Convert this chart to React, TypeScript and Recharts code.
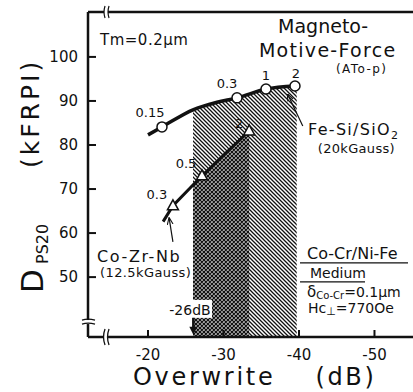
import React from 'react';
import { ComposedChart, Line, Area, XAxis, YAxis, ReferenceDot, ReferenceLine } from 'recharts';

const FONT = '"DejaVu Sans", Verdana, sans-serif';
const INK = '#111';

// Fe-Si/SiO2 head, 20kGauss (open circles, MMF in ATo-p)
const feOverwrite = [-20.0, -21.85, -25.96, -29.14, -31.79, -35.63, -39.47];
const feDensity = [82.3, 84.1, 88.0, 89.7, 90.7, 92.7, 93.4];
const feMmf = ['', '0.15', '', '', '0.3', '1', '2'];

// Co-Zr-Nb head, 12.5kGauss (open triangles)
const coOverwrite = [-22.0, -23.3, -27.15, -33.4];
const coDensity = [62.6, 66.2, 73.0, 83.2];
const coMmf = ['', '0.3', '0.5', '2'];

// shaded regions beyond -26 dB
const hatchOverwrite = [-25.96, -29.14, -31.79, -35.63, -39.7];
const hatchTop = [88.0, 89.7, 90.7, 92.7, 93.4];
const crossOverwrite = [-25.96, -27.15, -33.4];
const crossTop = [70.7, 73.0, 83.2];

const xTicks = [-20, -30, -40, -50];
const topTicks = [-20, -30];
const yTicks = [50, 60, 70, 80, 90, 100];

const X_DOMAIN: [number, number] = [-55.5, -12.05];
const Y_DOMAIN: [number, number] = [36.4, 110.2];

type Row = { x: number; fe?: number; feMmf?: string; co?: number; coMmf?: string; hatch?: number; cross?: number };
const rowMap = new Map<number, Row>();
const put = (x: number, patch: Partial<Row>) => rowMap.set(x, { ...(rowMap.get(x) || { x }), ...patch });
feOverwrite.forEach((x, i) => put(x, { fe: feDensity[i], feMmf: feMmf[i] }));
coOverwrite.forEach((x, i) => put(x, { co: coDensity[i], coMmf: coMmf[i] }));
hatchOverwrite.forEach((x, i) => put(x, { hatch: hatchTop[i] }));
crossOverwrite.forEach((x, i) => put(x, { cross: crossTop[i] }));
const table = [...rowMap.values()].sort((a, b) => b.x - a.x);

// where the MMF numbers sit relative to their marker
const feLabelOffset: Record<string, [number, number]> = { '0.15': [-12, -10], '0.3': [-10, -10], '1': [0, -9], '2': [1, -8] };
const coLabelOffset: Record<string, [number, number]> = { '0.3': [-16, -7], '0.5': [-16, -8], '2': [-10, -3] };

const markText = (cx: number, cy: number, label: string, off: [number, number]) => (
  <text x={cx + off[0]} y={cy + off[1]} textAnchor="middle" fontFamily={FONT} fontSize={13} fill={INK}>
    {label}
  </text>
);

const feDot = (p: any) => {
  const { cx, cy, payload, index } = p;
  if (!payload?.feMmf || cy == null) return <g key={`fe-${index}`} />;
  return (
    <g key={`fe-${index}`}>
      <circle cx={cx} cy={cy} r={5} fill="#fff" stroke={INK} strokeWidth={1.5} />
      {markText(cx, cy, payload.feMmf, feLabelOffset[payload.feMmf] || [0, -9])}
    </g>
  );
};

const coDot = (p: any) => {
  const { cx, cy, payload, index } = p;
  if (!payload?.coMmf || cy == null) return <g key={`co-${index}`} />;
  return (
    <g key={`co-${index}`}>
      <polygon points={`${cx},${cy - 6} ${cx - 5.5},${cy + 4} ${cx + 5.5},${cy + 4}`} fill="#fff" stroke={INK} strokeWidth={1.5} />
      {markText(cx, cy, payload.coMmf, coLabelOffset[payload.coMmf] || [0, -9])}
    </g>
  );
};

const txt = { fontFamily: FONT, fill: INK } as const;

const note = (render: (cx: number, cy: number) => React.ReactElement) => (p: any) => render(p.cx, p.cy);

const xTitle = () => (
  <text x={133} y={385} {...txt} fontSize={24} letterSpacing={2.7}>
    <tspan>Overwrite</tspan>
    <tspan dx={40}>(dB)</tspan>
  </text>
);

const yTitle = () => (
  <g {...txt}>
    <text x={43} y={293} transform="rotate(-90 43 293)" fontFamily={FONT} fontSize={31} fill={INK}>D</text>
    <text x={48} y={264} transform="rotate(-90 48 264)" fontFamily={FONT} fontSize={16} fill={INK}>PS20</text>
    <text x={38.5} y={168} transform="rotate(-90 38.5 168)" fontFamily={FONT} fontSize={25} letterSpacing={3} fill={INK}>(kFRPI)</text>
  </g>
);

export default function App() {
  return (
    <div style={{ position: 'absolute', left: 0, top: 0, width: 413, height: 392, overflow: 'hidden', background: '#fff' }}>
      <ComposedChart width={421} height={392} data={table} margin={{ top: 2, right: 0, bottom: 0, left: 0 }}>
        <defs>
          <pattern id="diag" patternUnits="userSpaceOnUse" width={4} height={4}>
            <path d="M-1,-1 L5,5 M-1,3 L1,5 M3,-1 L5,1" stroke={INK} strokeWidth={1.3} />
          </pattern>
          <pattern id="cross" patternUnits="userSpaceOnUse" width={4} height={4}>
            <rect width={4} height={4} fill="#fff" />
            <path d="M-1,-1 L5,5 M-1,3 L1,5 M3,-1 L5,1 M-1,5 L5,-1 M-1,1 L1,-1 M3,5 L5,3" stroke={INK} strokeWidth={1.4} />
          </pattern>
          <marker id="tip" viewBox="0 0 10 10" refX={9} refY={5} markerWidth={6} markerHeight={6} orient="auto">
            <path d="M0,1 L10,5 L0,9" fill="none" stroke={INK} strokeWidth={1.5} />
          </marker>
        </defs>

        <XAxis
          xAxisId="b"
          type="number"
          dataKey="x"
          domain={X_DOMAIN}
          reversed
          allowDataOverflow
          ticks={xTicks}
          interval={0}
          height={55}
          tickSize={-7}
          tickMargin={19}
          axisLine={{ stroke: INK, strokeWidth: 2.5 }}
          tickLine={{ stroke: INK, strokeWidth: 2 }}
          tick={{ fill: INK, fontSize: 15, fontFamily: FONT }}
          label={xTitle}
        />
        <XAxis
          xAxisId="t"
          orientation="top"
          type="number"
          dataKey="x"
          domain={X_DOMAIN}
          reversed
          allowDataOverflow
          ticks={topTicks}
          interval={0}
          height={10}
          tickSize={-7}
          tick={false}
          axisLine={{ stroke: INK, strokeWidth: 2.5 }}
          tickLine={{ stroke: INK, strokeWidth: 2 }}
        />
        <YAxis
          yAxisId="l"
          type="number"
          domain={Y_DOMAIN}
          allowDataOverflow
          ticks={yTicks}
          interval={0}
          width={88}
          tickSize={-8}
          tickMargin={18}
          axisLine={{ stroke: INK, strokeWidth: 2.5 }}
          tickLine={{ stroke: INK, strokeWidth: 2 }}
          tick={{ fill: INK, fontSize: 15, fontFamily: FONT }}
          label={yTitle}
        />
        <YAxis
          yAxisId="r"
          orientation="right"
          type="number"
          domain={Y_DOMAIN}
          allowDataOverflow
          ticks={yTicks}
          interval={0}
          width={5}
          tickSize={-9}
          tick={false}
          axisLine={{ stroke: INK, strokeWidth: 2.5 }}
          tickLine={{ stroke: INK, strokeWidth: 2 }}
        />

        <Area xAxisId="b" yAxisId="l" dataKey="hatch" type="monotone" stroke="none" fill="url(#diag)" fillOpacity={1}
          baseValue="dataMin" connectNulls dot={false} activeDot={false} isAnimationActive={false} />
        <Area xAxisId="b" yAxisId="l" dataKey="cross" type="linear" stroke="none" fill="url(#cross)" fillOpacity={1}
          baseValue="dataMin" connectNulls dot={false} activeDot={false} isAnimationActive={false} />

        <Line xAxisId="b" yAxisId="l" dataKey="fe" type="monotone" stroke={INK} strokeWidth={3.5} connectNulls
          dot={feDot} activeDot={false} isAnimationActive={false} />
        <Line xAxisId="b" yAxisId="l" dataKey="co" type="linear" stroke={INK} strokeWidth={3} connectNulls
          dot={coDot} activeDot={false} isAnimationActive={false} />

        {/* leader lines */}
        <ReferenceLine xAxisId="b" yAxisId="l" segment={[{ x: -23.3, y: 58.0 }, { x: -22.8, y: 63.4 }]}
          stroke={INK} strokeWidth={1.2} markerEnd="url(#tip)" ifOverflow="visible" />
        <ReferenceLine xAxisId="b" yAxisId="l" segment={[{ x: -40.5, y: 84.3 }, { x: -38.5, y: 91.5 }]}
          stroke={INK} strokeWidth={1.2} markerEnd="url(#tip)" ifOverflow="visible" />

        {/* texts */}
        <ReferenceDot xAxisId="b" yAxisId="l" x={-13.64} y={102.7} r={0} ifOverflow="visible"
          shape={note((cx, cy) => <text x={cx} y={cy} {...txt} fontSize={15} letterSpacing={0.5}>Tm=0.2µm</text>)} />
        <ReferenceDot xAxisId="b" yAxisId="l" x={-43.2} y={105.45} r={0} ifOverflow="visible"
          shape={note((cx, cy) => <text x={cx} y={cy} {...txt} fontSize={19} textAnchor="middle">Magneto-</text>)} />
        <ReferenceDot xAxisId="b" yAxisId="l" x={-43.8} y={100} r={0} ifOverflow="visible"
          shape={note((cx, cy) => <text x={cx} y={cy} {...txt} fontSize={19} letterSpacing={1.3} textAnchor="middle">Motive-Force</text>)} />
        <ReferenceDot xAxisId="b" yAxisId="l" x={-48.3} y={96.4} r={0} ifOverflow="visible"
          shape={note((cx, cy) => <text x={cx} y={cy} {...txt} fontSize={12} letterSpacing={1.4} textAnchor="middle">(ATo-p)</text>)} />
        <ReferenceDot xAxisId="b" yAxisId="l" x={-41.2} y={82.3} r={0} ifOverflow="visible"
          shape={note((cx, cy) => (
            <text x={cx} y={cy} {...txt} fontSize={16} letterSpacing={1.3}>
              Fe-Si/SiO<tspan fontSize={11} dy={4}>2</tspan>
            </text>
          ))} />
        <ReferenceDot xAxisId="b" yAxisId="l" x={-42.5} y={78.2} r={0} ifOverflow="visible"
          shape={note((cx, cy) => <text x={cx} y={cy} {...txt} fontSize={13} letterSpacing={0.3}>(20kGauss)</text>)} />
        <ReferenceDot xAxisId="b" yAxisId="l" x={-13.25} y={53.45} r={0} ifOverflow="visible"
          shape={note((cx, cy) => <text x={cx} y={cy} {...txt} fontSize={16} letterSpacing={1.6}>Co-Zr-Nb</text>)} />
        <ReferenceDot xAxisId="b" yAxisId="l" x={-13.64} y={50.05} r={0} ifOverflow="visible"
          shape={note((cx, cy) => <text x={cx} y={cy} {...txt} fontSize={13} letterSpacing={0.4}>(12.5kGauss)</text>)} />

        {/* medium legend */}
        <ReferenceDot xAxisId="b" yAxisId="l" x={-41.06} y={54.13} r={0} ifOverflow="visible"
          shape={note((cx, cy) => (
            <g>
              <text x={cx} y={cy} {...txt} fontSize={16}>Co-Cr/Ni-Fe</text>
              <line x1={cx - 7} x2={cx + 101} y1={cy + 4} y2={cy + 4} stroke={INK} strokeWidth={1.3} />
            </g>
          ))} />
        <ReferenceDot xAxisId="b" yAxisId="l" x={-41.46} y={49.82} r={0} ifOverflow="visible"
          shape={note((cx, cy) => (
            <g>
              <text x={cx} y={cy} {...txt} fontSize={14}>Medium</text>
              <line x1={cx - 10} x2={cx + 55} y1={cy + 4} y2={cy + 4} stroke={INK} strokeWidth={1.3} />
            </g>
          ))} />
        <ReferenceDot xAxisId="b" yAxisId="l" x={-41.06} y={45.5} r={0} ifOverflow="visible"
          shape={note((cx, cy) => (
            <text x={cx} y={cy} {...txt} fontSize={15}>
              δ<tspan fontSize={10} dy={2}>Co-Cr</tspan>
              <tspan fontSize={14} dy={-2}>=0.1µm</tspan>
            </text>
          ))} />
        <ReferenceDot xAxisId="b" yAxisId="l" x={-41.19} y={41.87} r={0} ifOverflow="visible"
          shape={note((cx, cy) => (
            <text x={cx} y={cy} {...txt} fontSize={14}>
              Hc<tspan fontSize={11} dy={2}>⊥</tspan>
              <tspan dy={-2}>=770Oe</tspan>
            </text>
          ))} />

        {/* -26 dB marker */}
        <ReferenceDot xAxisId="b" yAxisId="l" x={-25.56} y={41.42} r={0} ifOverflow="visible"
          shape={note((cx, cy) => (
            <g>
              <rect x={cx - 21} y={cy - 15} width={43} height={18} fill="#fff" />
              <text x={cx} y={cy} {...txt} fontSize={14} textAnchor="middle">-26dB</text>
            </g>
          ))} />
        <ReferenceDot xAxisId="b" yAxisId="l" x={-26} y={36.9} r={0} ifOverflow="visible"
          shape={note((cx, cy) => (
            <g>
              <line x1={cx} x2={cx} y1={cy - 17} y2={cy - 7} stroke={INK} strokeWidth={2.5} />
              <polygon points={`${cx},${cy} ${cx - 4},${cy - 8} ${cx + 4},${cy - 8}`} fill={INK} />
            </g>
          ))} />

        {/* axis breaks */}
        <ReferenceDot xAxisId="b" yAxisId="l" x={-14.57} y={36.4} r={0} ifOverflow="visible"
          shape={note((cx, cy) => (
            <g fill="none" stroke={INK} strokeWidth={1.3}>
              <rect x={cx - 3} y={cy - 3} width={4} height={6} fill="#fff" stroke="none" />
              <path d={`M${cx - 2},${cy - 8} Q${cx - 5},${cy} ${cx - 2},${cy + 8}`} />
              <path d={`M${cx + 2},${cy - 8} Q${cx - 1},${cy} ${cx + 2},${cy + 8}`} />
            </g>
          ))} />
        <ReferenceDot xAxisId="b" yAxisId="l" x={-14.57} y={110.2} r={0} ifOverflow="visible"
          shape={note((cx, cy) => (
            <g fill="none" stroke={INK} strokeWidth={1.2}>
              <rect x={cx - 3} y={cy - 3} width={4} height={6} fill="#fff" stroke="none" />
              <path d={`M${cx - 2},${cy - 6} Q${cx - 4},${cy} ${cx - 2},${cy + 6}`} />
              <path d={`M${cx + 2},${cy - 6} Q${cx},${cy} ${cx + 2},${cy + 6}`} />
            </g>
          ))} />
        <ReferenceDot xAxisId="b" yAxisId="l" x={-12.05} y={39.8} r={0} ifOverflow="visible"
          shape={note((cx, cy) => (
            <g stroke={INK} strokeWidth={1.3}>
              <rect x={cx - 3} y={cy - 2} width={6} height={4} fill="#fff" stroke="none" />
              <path d={`M${cx - 6},${cy - 2} Q${cx},${cy - 4} ${cx + 7},${cy - 2}`} fill="none" />
              <path d={`M${cx - 6},${cy + 2} Q${cx},${cy} ${cx + 7},${cy + 2}`} fill="none" />
            </g>
          ))} />
      </ComposedChart>
    </div>
  );
}
